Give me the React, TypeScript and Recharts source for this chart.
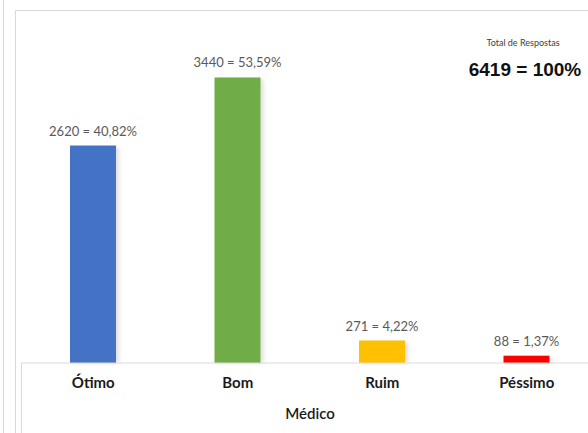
import { BarChart, Bar, XAxis, YAxis, LabelList, Cell, Label } from 'recharts';

const categories = ['Ótimo', 'Bom', 'Ruim', 'Péssimo'];
const counts = [2620, 3440, 271, 88];
const percents = ['40,82', '53,59', '4,22', '1,37'];
const colors = ['#4472C4', '#70AD47', '#FFC000', '#FF0000'];
const total = 6419;

const data = categories.map((name, i) => ({
  name,
  value: counts[i],
  label: `${counts[i]} = ${percents[i]}%`,
}));

const lineColor = '#d9d9d9';

const ShadowBar = (props: any) => {
  const { x, y, width, height, fill } = props;
  if (height <= 0) return null;
  return (
    <g>
      <rect x={x + 3} y={y + 2} width={width} height={height - 2} fill="#000" opacity={0.12} filter="url(#barBlur)" />
      <rect x={x} y={y} width={width} height={height} fill={fill} />
    </g>
  );
};

const TopLabel = (props: any) => {
  const { x, y, width, value } = props;
  return (
    <text x={x + width / 2} y={y - 10} textAnchor="middle" fill="#595959" fontSize={13} fontFamily="Lato">
      {value}
    </text>
  );
};

export default function App() {
  return (
    <div style={{ position: 'fixed', left: 0, top: 0, width: 588, height: 433, overflow: 'hidden', background: '#fff', fontFamily: 'Lato, sans-serif' }}>
      <div style={{ position: 'absolute', left: 3, top: 0, width: 0, height: 433, borderLeft: `1px solid ${lineColor}` }} />
      <div style={{ position: 'absolute', left: 15, top: 10, width: 600, height: 500, borderLeft: `1px solid ${lineColor}`, borderTop: `1px solid ${lineColor}` }} />
      <div style={{ position: 'absolute', left: 21, top: 363, width: 0, height: 80, borderLeft: `1px solid ${lineColor}` }} />
      <div style={{ position: 'absolute', left: 0, top: 0 }}>
        <BarChart width={600} height={433} data={data} margin={{ top: 31, right: 1, bottom: 0, left: 21 }} barCategoryGap={0}>
          <defs>
            <filter id="barBlur" x="-20%" y="-20%" width="140%" height="140%">
              <feGaussianBlur stdDeviation="2" />
            </filter>
          </defs>
          <YAxis hide domain={[0, 4000]} />
          <XAxis
            dataKey="name"
            height={70}
            axisLine={{ stroke: lineColor }}
            tickLine={false}
            tickMargin={8}
            tick={{ fill: '#1a1a1a', fontSize: 15, fontWeight: 700, fontFamily: 'Lato' }}
            interval={0}
          >
            <Label value="Médico" position="insideBottom" offset={14} style={{ fill: '#1a1a1a', fontSize: 15, fontWeight: 600, fontFamily: 'Lato' }} />
          </XAxis>
          <Bar dataKey="value" barSize={46} isAnimationActive={false} shape={ShadowBar}>
            {data.map((d, i) => (
              <Cell key={d.name} fill={colors[i]} />
            ))}
            <LabelList dataKey="label" content={TopLabel} />
          </Bar>
        </BarChart>
      </div>
      <div style={{ position: 'absolute', left: 463, top: 37, width: 120, textAlign: 'center', fontSize: 9, color: '#404040' }}>
        Total de Respostas
      </div>
      <div style={{ position: 'absolute', left: 455, top: 59, width: 140, textAlign: 'center', fontSize: 19, fontWeight: 700, color: '#111', fontFamily: '"Liberation Sans", Arial, sans-serif' }}>
        {`${total} = 100%`}
      </div>
    </div>
  );
}
